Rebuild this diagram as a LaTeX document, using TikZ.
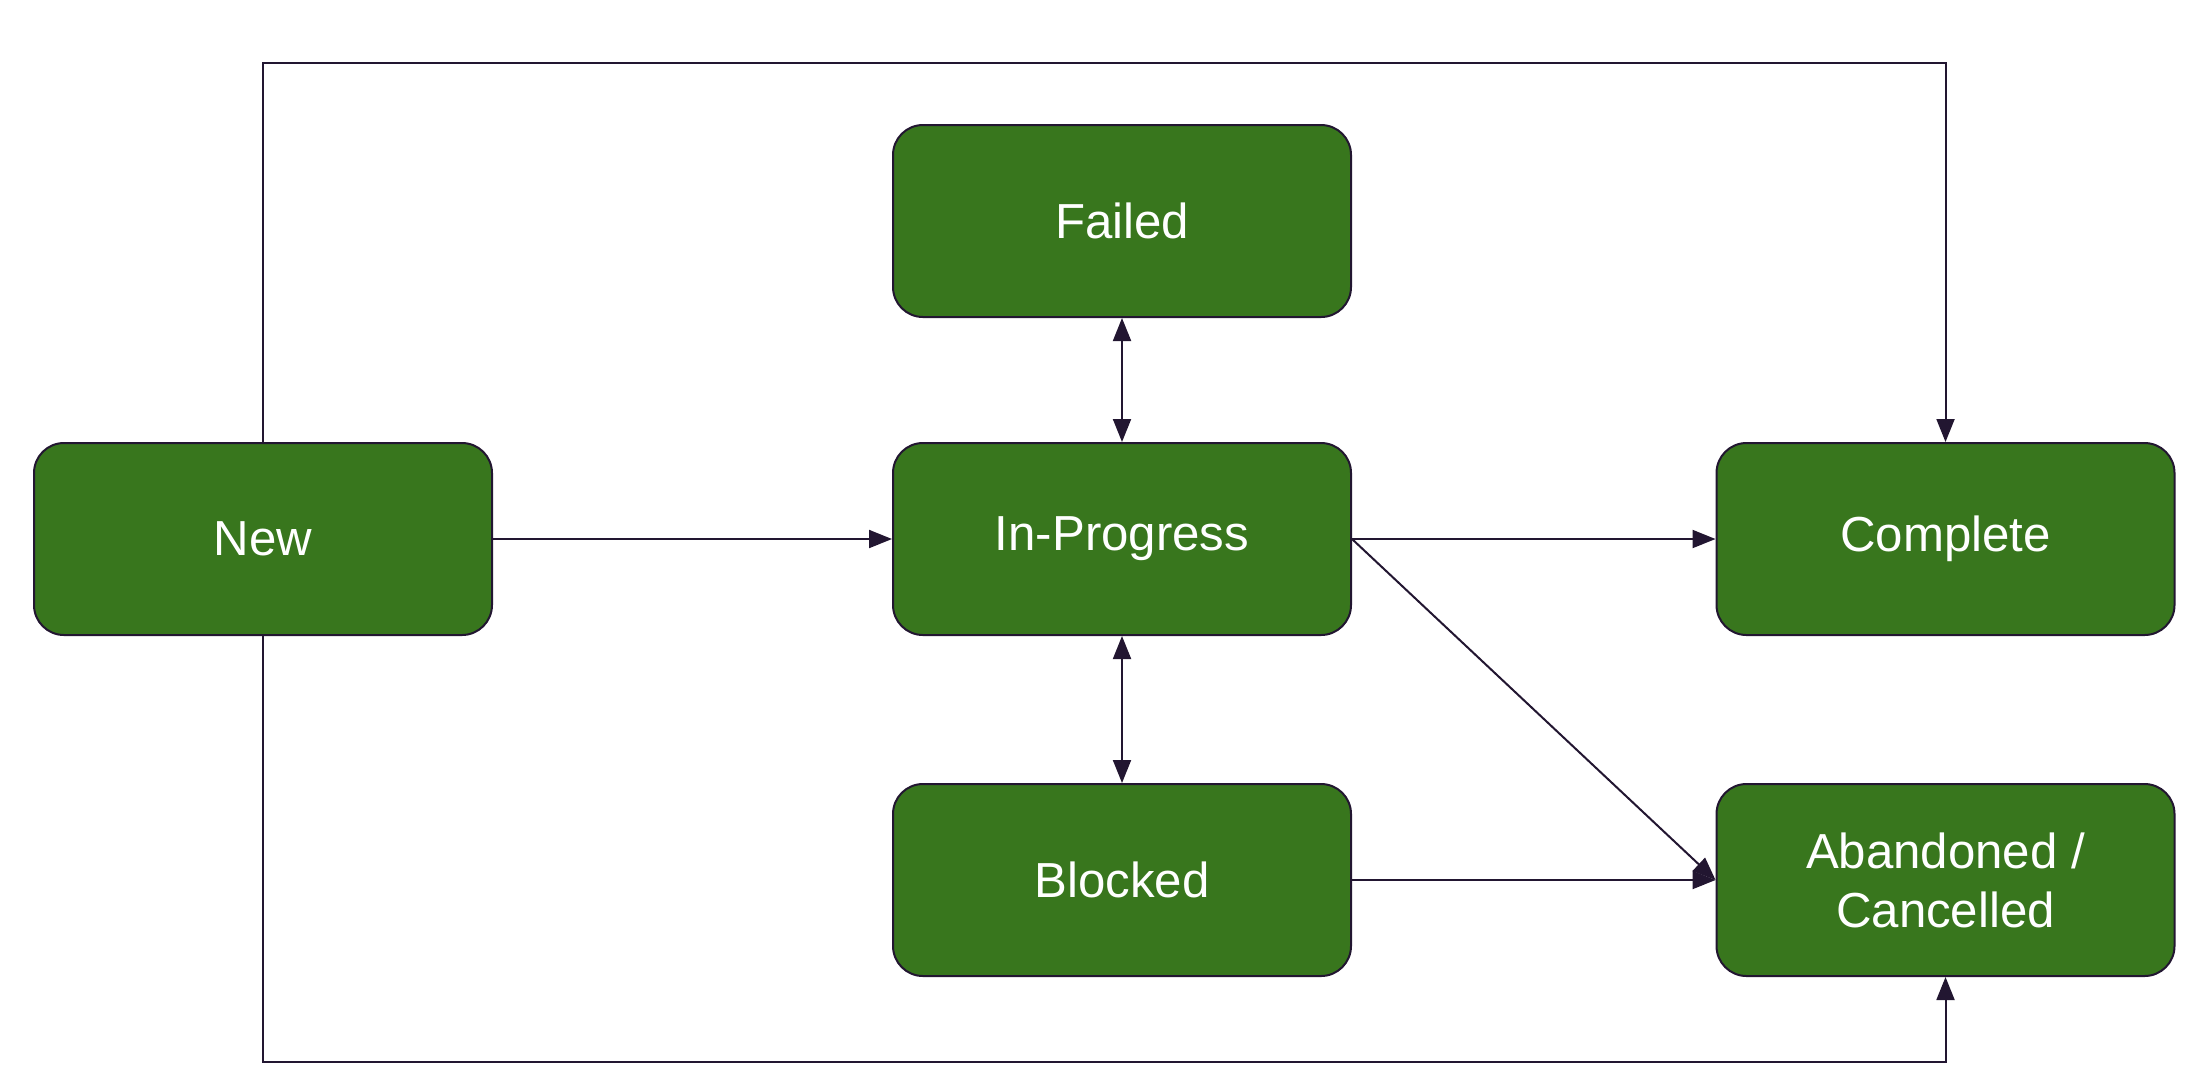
\documentclass[tikz,border=0pt]{standalone}
\usepackage{fontspec}
\setmainfont{Liberation Sans}
\usetikzlibrary{arrows.meta}
\definecolor{boxgreen}{HTML}{38761D}
\definecolor{edgeink}{HTML}{221631}
\begin{document}
\begin{tikzpicture}[x=0.5pt,y=-0.5pt,
  state/.style={draw=edgeink,line width=1pt,fill=boxgreen,rounded corners=15pt,
    minimum width=229pt,minimum height=96pt,text=white,align=center,
    font=\fontsize{24.6pt}{29.5pt}\selectfont,inner sep=0pt},
  conn/.style={draw=edgeink,line width=1pt,-{Triangle[length=11.5pt,width=9pt]}},
  biconn/.style={draw=edgeink,line width=1pt,{Triangle[length=11.5pt,width=9pt]}-{Triangle[length=11.5pt,width=9pt]}}]
\useasboundingbox (0,0) rectangle (2209,1089);
\node[state] (new) at (263,539) {New};
\node[state] (prog) at (1122,539) {In-Progress};
\node[state] (fail) at (1122,221) {Failed};
\node[state] (block) at (1122,880) {Blocked};
\node[state] (comp) at (1945.5,539) {Complete};
\node[state] (aband) at (1945.5,880) {Abandoned /\\Cancelled};
\coordinate (tl) at (263,63);
\coordinate (tr) at (1945.5,63);
\coordinate (bl) at (263,1062);
\coordinate (br) at (1945.5,1062);
\draw[conn] (new.north) -- (tl) -- (tr) -- (comp.north);
\draw[conn] (new.south) -- (bl) -- (br) -- (aband.south);
\draw[conn] (new.east) -- (prog.west);
\draw[conn] (prog.east) -- (comp.west);
\draw[conn] (prog.east) -- (aband.west);
\draw[conn] (block.east) -- (aband.west);
\draw[biconn] (fail.south) -- (prog.north);
\draw[biconn] (prog.south) -- (block.north);
\end{tikzpicture}
\end{document}
